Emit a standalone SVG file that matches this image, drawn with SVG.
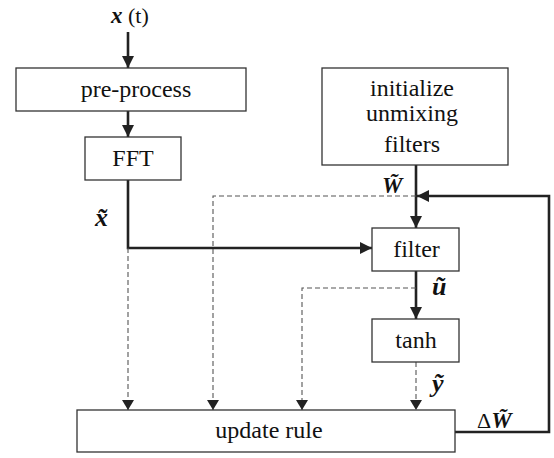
<svg xmlns="http://www.w3.org/2000/svg" width="554" height="458" viewBox="0 0 554 458">
<style>
.box{fill:#fff;stroke:#333;stroke-width:1.3}
.t{font-family:"Liberation Serif","Times New Roman",serif;font-size:24px;fill:#111;text-anchor:middle}
.m{font-family:"Liberation Serif","Times New Roman",serif;font-size:23px;fill:#111;font-weight:bold;font-style:italic}
.l{font-size:26px}
.up{font-weight:normal;font-style:normal;font-size:22px}
.s{fill:none;stroke:#222;stroke-width:2.6}
.d{fill:none;stroke:#555;stroke-width:1.1;stroke-dasharray:5,3}
</style>
<defs>
<marker id="a" markerWidth="10" markerHeight="12" refX="10" refY="6" orient="auto" markerUnits="userSpaceOnUse"><path d="M0,0L10,6L0,12z" fill="#222"/></marker>
<marker id="ad" markerWidth="12" markerHeight="12" refX="12" refY="6" orient="auto" markerUnits="userSpaceOnUse"><path d="M0,0L12,6L0,12z" fill="#222"/></marker>
</defs>
<g id="connectors">
<path class="s" d="M128,32V68" marker-end="url(#ad)"/>
<path class="s" d="M128,111V137" marker-end="url(#ad)"/>
<path class="s" d="M128,180V248H372" marker-end="url(#ad)"/>
<path class="s" d="M416,165V228" marker-end="url(#ad)"/>
<path class="s" d="M455,432H549V196H417" marker-end="url(#ad)"/>
<path class="s" d="M416,271V319" marker-end="url(#ad)"/>
<path class="d" d="M128,248V410" marker-end="url(#a)"/>
<path class="d" d="M416,196H213V410" marker-end="url(#a)"/>
<path class="d" d="M416,288H302V410" marker-end="url(#a)"/>
<path class="d" d="M416,362V410" marker-end="url(#a)"/>
</g>
<g id="preprocess"><rect class="box" x="16" y="68" width="230" height="43"/><text class="t" x="136" y="97">pre-process</text></g>
<g id="fft"><rect class="box" x="85" y="137" width="96" height="43"/><text class="t" x="133" y="166">FFT</text></g>
<g id="init"><rect class="box" x="322" y="68" width="186" height="97"/><text class="t" x="412" y="96">initialize</text><text class="t" x="412" y="121">unmixing</text><text class="t" x="412" y="152">filters</text></g>
<g id="filter"><rect class="box" x="372" y="228" width="87" height="43"/><text class="t" x="416.5" y="257">filter</text></g>
<g id="tanh"><rect class="box" x="372" y="319" width="87" height="43"/><text class="t" x="416" y="348">tanh</text></g>
<g id="update"><rect class="box" x="77" y="410" width="378" height="42"/><text class="t" x="269" y="438">update rule</text></g>
<g id="labels">
<text class="m" x="111" y="23" font-size="24px">x<tspan class="up" x="128">(</tspan><tspan class="up" font-style="italic">t</tspan><tspan class="up">)</tspan></text>
<text class="m l" x="95" y="226">x̃</text>
<text class="m" x="382" y="193">W̃</text>
<text class="m l" x="432" y="295">ũ</text>
<text class="m l" x="432" y="392">ỹ</text>
<text class="m" x="477" y="428"><tspan class="up" font-size="23px">Δ</tspan>W̃</text>
</g>
</svg>
